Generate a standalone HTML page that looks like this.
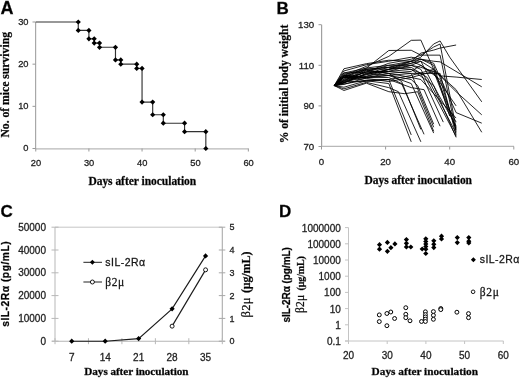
<!DOCTYPE html>
<html><head><meta charset="utf-8"><style>
html,body{margin:0;padding:0;background:#fff;}
body{width:520px;height:379px;overflow:hidden;}
svg{display:block;}
text{stroke:#222;stroke-width:0.28px;}
</style></head><body>
<svg width="520" height="379" viewBox="0 0 520 379" shape-rendering="geometricPrecision">
<defs><filter id="bl" x="0" y="0" width="100%" height="100%" filterUnits="userSpaceOnUse"><feGaussianBlur stdDeviation="0.35"/></filter></defs>
<rect width="520" height="379" fill="#fff"/>
<g filter="url(#bl)">
<rect width="520" height="379" fill="#fff"/>
<text x="0.40" y="13.50" style="font-family:'Liberation Sans',sans-serif;font-size:18px;font-weight:bold" text-anchor="start" fill="#000" >A</text>
<line x1="35.60" y1="21.99" x2="35.60" y2="149.00" stroke="#a8a8a8" stroke-width="1.2"/>
<line x1="35.50" y1="148.80" x2="248.50" y2="148.80" stroke="#b8b8b8" stroke-width="1.3"/>
<line x1="32.50" y1="148.50" x2="35.50" y2="148.50" stroke="#999" stroke-width="1"/>
<text x="28.50" y="151.40" style="font-family:'Liberation Sans',sans-serif;font-size:9.3px;font-weight:normal" text-anchor="end" fill="#222" >0</text>
<line x1="32.50" y1="106.33" x2="35.50" y2="106.33" stroke="#999" stroke-width="1"/>
<text x="28.50" y="109.23" style="font-family:'Liberation Sans',sans-serif;font-size:9.3px;font-weight:normal" text-anchor="end" fill="#222" >10</text>
<line x1="32.50" y1="64.16" x2="35.50" y2="64.16" stroke="#999" stroke-width="1"/>
<text x="28.50" y="67.06" style="font-family:'Liberation Sans',sans-serif;font-size:9.3px;font-weight:normal" text-anchor="end" fill="#222" >20</text>
<line x1="32.50" y1="21.99" x2="35.50" y2="21.99" stroke="#999" stroke-width="1"/>
<text x="28.50" y="24.89" style="font-family:'Liberation Sans',sans-serif;font-size:9.3px;font-weight:normal" text-anchor="end" fill="#222" >30</text>
<line x1="35.75" y1="148.50" x2="35.75" y2="151.50" stroke="#999" stroke-width="1"/>
<text x="35.95" y="165.70" style="font-family:'Liberation Sans',sans-serif;font-size:9.3px;font-weight:normal" text-anchor="middle" fill="#222" >20</text>
<line x1="88.90" y1="148.50" x2="88.90" y2="151.50" stroke="#999" stroke-width="1"/>
<text x="89.10" y="165.70" style="font-family:'Liberation Sans',sans-serif;font-size:9.3px;font-weight:normal" text-anchor="middle" fill="#222" >30</text>
<line x1="142.05" y1="148.50" x2="142.05" y2="151.50" stroke="#999" stroke-width="1"/>
<text x="142.25" y="165.70" style="font-family:'Liberation Sans',sans-serif;font-size:9.3px;font-weight:normal" text-anchor="middle" fill="#222" >40</text>
<line x1="195.20" y1="148.50" x2="195.20" y2="151.50" stroke="#999" stroke-width="1"/>
<text x="195.40" y="165.70" style="font-family:'Liberation Sans',sans-serif;font-size:9.3px;font-weight:normal" text-anchor="middle" fill="#222" >50</text>
<line x1="248.35" y1="148.50" x2="248.35" y2="151.50" stroke="#999" stroke-width="1"/>
<text x="248.55" y="165.70" style="font-family:'Liberation Sans',sans-serif;font-size:9.3px;font-weight:normal" text-anchor="middle" fill="#222" >60</text>
<polyline points="35.75,21.99 78.27,21.99 78.27,30.42 88.90,30.42 88.90,38.86 94.22,38.86 94.22,43.08 99.53,43.08 99.53,47.29 115.48,47.29 115.48,59.94 120.79,59.94 120.79,64.16 136.74,64.16 136.74,68.38 142.05,68.38 142.05,102.11 152.68,102.11 152.68,114.76 163.31,114.76 163.31,123.20 184.57,123.20 184.57,131.63 205.83,131.63 205.83,148.50" fill="none" stroke="#333" stroke-width="1.15" stroke-linejoin="miter"/>
<path d="M78.27 19.39L80.87 21.99L78.27 24.59L75.67 21.99Z" fill="#000"/>
<path d="M78.27 27.82L80.87 30.42L78.27 33.02L75.67 30.42Z" fill="#000"/>
<path d="M88.90 27.82L91.50 30.42L88.90 33.02L86.30 30.42Z" fill="#000"/>
<path d="M88.90 36.26L91.50 38.86L88.90 41.46L86.30 38.86Z" fill="#000"/>
<path d="M94.22 36.26L96.81 38.86L94.22 41.46L91.62 38.86Z" fill="#000"/>
<path d="M94.22 40.48L96.81 43.08L94.22 45.68L91.62 43.08Z" fill="#000"/>
<path d="M99.53 40.48L102.13 43.08L99.53 45.68L96.93 43.08Z" fill="#000"/>
<path d="M99.53 44.69L102.13 47.29L99.53 49.89L96.93 47.29Z" fill="#000"/>
<path d="M115.48 44.69L118.08 47.29L115.48 49.89L112.88 47.29Z" fill="#000"/>
<path d="M115.48 57.34L118.08 59.94L115.48 62.54L112.88 59.94Z" fill="#000"/>
<path d="M120.79 57.34L123.39 59.94L120.79 62.54L118.19 59.94Z" fill="#000"/>
<path d="M120.79 61.56L123.39 64.16L120.79 66.76L118.19 64.16Z" fill="#000"/>
<path d="M136.74 61.56L139.34 64.16L136.74 66.76L134.14 64.16Z" fill="#000"/>
<path d="M136.74 65.78L139.34 68.38L136.74 70.98L134.14 68.38Z" fill="#000"/>
<path d="M142.05 65.78L144.65 68.38L142.05 70.98L139.45 68.38Z" fill="#000"/>
<path d="M142.05 99.51L144.65 102.11L142.05 104.71L139.45 102.11Z" fill="#000"/>
<path d="M152.68 99.51L155.28 102.11L152.68 104.71L150.08 102.11Z" fill="#000"/>
<path d="M152.68 112.16L155.28 114.76L152.68 117.36L150.08 114.76Z" fill="#000"/>
<path d="M163.31 112.16L165.91 114.76L163.31 117.36L160.71 114.76Z" fill="#000"/>
<path d="M163.31 120.60L165.91 123.20L163.31 125.80L160.71 123.20Z" fill="#000"/>
<path d="M184.57 120.60L187.17 123.20L184.57 125.80L181.97 123.20Z" fill="#000"/>
<path d="M184.57 129.03L187.17 131.63L184.57 134.23L181.97 131.63Z" fill="#000"/>
<path d="M205.83 129.03L208.43 131.63L205.83 134.23L203.23 131.63Z" fill="#000"/>
<path d="M205.83 145.90L208.43 148.50L205.83 151.10L203.23 148.50Z" fill="#000"/>
<text x="88.4" y="184.6" textLength="107.8" lengthAdjust="spacing" style="font-family:'Liberation Serif',serif;font-size:11.5px;font-weight:bold" fill="#000">Days after inoculation</text>
<text transform="translate(9.2,137.6) rotate(-90)" textLength="105.6" lengthAdjust="spacing" style="font-family:'Liberation Serif',serif;font-size:11.7px;font-weight:bold" fill="#000">No. of mice surviving</text>
<text x="276.50" y="13.80" style="font-family:'Liberation Sans',sans-serif;font-size:17px;font-weight:bold" text-anchor="start" fill="#000" >B</text>
<line x1="321.60" y1="24.70" x2="321.60" y2="147.00" stroke="#a0a0a0" stroke-width="1.2"/>
<line x1="321.50" y1="146.40" x2="514.00" y2="146.40" stroke="#b8b8b8" stroke-width="1.3"/>
<line x1="318.50" y1="146.50" x2="321.50" y2="146.50" stroke="#999" stroke-width="1"/>
<text x="314.20" y="149.70" style="font-family:'Liberation Sans',sans-serif;font-size:9.7px;font-weight:normal" text-anchor="end" fill="#222" >70</text>
<line x1="318.50" y1="105.90" x2="321.50" y2="105.90" stroke="#999" stroke-width="1"/>
<text x="314.20" y="109.10" style="font-family:'Liberation Sans',sans-serif;font-size:9.7px;font-weight:normal" text-anchor="end" fill="#222" >90</text>
<line x1="318.50" y1="65.30" x2="321.50" y2="65.30" stroke="#999" stroke-width="1"/>
<text x="314.20" y="68.50" style="font-family:'Liberation Sans',sans-serif;font-size:9.7px;font-weight:normal" text-anchor="end" fill="#222" >110</text>
<line x1="318.50" y1="24.70" x2="321.50" y2="24.70" stroke="#999" stroke-width="1"/>
<text x="314.20" y="27.90" style="font-family:'Liberation Sans',sans-serif;font-size:9.7px;font-weight:normal" text-anchor="end" fill="#222" >130</text>
<line x1="321.50" y1="146.50" x2="321.50" y2="149.50" stroke="#999" stroke-width="1"/>
<text x="321.50" y="164.60" style="font-family:'Liberation Sans',sans-serif;font-size:9.7px;font-weight:normal" text-anchor="middle" fill="#222" >0</text>
<line x1="385.60" y1="146.50" x2="385.60" y2="149.50" stroke="#999" stroke-width="1"/>
<text x="385.60" y="164.60" style="font-family:'Liberation Sans',sans-serif;font-size:9.7px;font-weight:normal" text-anchor="middle" fill="#222" >20</text>
<line x1="449.70" y1="146.50" x2="449.70" y2="149.50" stroke="#999" stroke-width="1"/>
<text x="449.70" y="164.60" style="font-family:'Liberation Sans',sans-serif;font-size:9.7px;font-weight:normal" text-anchor="middle" fill="#222" >40</text>
<line x1="513.80" y1="146.50" x2="513.80" y2="149.50" stroke="#999" stroke-width="1"/>
<text x="513.80" y="164.60" style="font-family:'Liberation Sans',sans-serif;font-size:9.7px;font-weight:normal" text-anchor="middle" fill="#222" >60</text>
<text x="364.6" y="183.9" textLength="107.4" lengthAdjust="spacing" style="font-family:'Liberation Serif',serif;font-size:11.5px;font-weight:bold" fill="#000">Days after inoculation</text>
<text transform="translate(288.0,143.2) rotate(-90)" textLength="118.6" lengthAdjust="spacing" style="font-family:'Liberation Serif',serif;font-size:11.7px;font-weight:bold" fill="#000">% of initial body weight</text>
<polyline points="334.32,85.60 343.94,75.65 366.37,66.32 388.81,56.37 411.24,40.33 420.86,40.13 433.68,69.36 456.11,91.69 481.75,114.83" fill="none" stroke="#000" stroke-width="0.85" stroke-linejoin="miter"/>
<polyline points="334.32,85.60 343.94,77.28 366.37,67.94 388.81,65.30 411.24,61.24 420.86,57.18 433.68,43.99 440.09,40.94 449.70,57.18 481.75,101.84" fill="none" stroke="#000" stroke-width="0.85" stroke-linejoin="miter"/>
<polyline points="334.32,85.60 343.94,80.32 366.37,71.80 388.81,63.27 411.24,59.21 420.86,55.15 433.68,47.03 440.09,43.99 456.11,128.23" fill="none" stroke="#000" stroke-width="0.85" stroke-linejoin="miter"/>
<polyline points="334.32,85.60 343.94,82.56 366.37,73.62 388.81,67.33 411.24,61.24 420.86,53.12 433.68,50.08 440.09,48.05 456.11,45.00" fill="none" stroke="#000" stroke-width="0.85" stroke-linejoin="miter"/>
<polyline points="334.32,85.60 343.94,73.01 366.37,68.14 388.81,50.48 411.24,50.28 420.86,55.15 440.09,55.15 456.11,132.29" fill="none" stroke="#000" stroke-width="0.85" stroke-linejoin="miter"/>
<polyline points="334.32,85.60 343.94,81.13 366.37,76.26 388.81,69.36 411.24,65.30 420.86,67.33 433.68,71.39 440.09,75.86 456.11,77.07 481.75,79.51" fill="none" stroke="#000" stroke-width="0.85" stroke-linejoin="miter"/>
<polyline points="334.32,85.60 343.94,76.06 366.37,69.36 388.81,67.33 411.24,63.27 420.86,59.21 433.68,61.24 440.09,61.85 481.75,86.82" fill="none" stroke="#000" stroke-width="0.85" stroke-linejoin="miter"/>
<polyline points="334.32,85.60 343.94,79.31 366.37,74.64 388.81,69.36 411.24,61.24 420.86,59.21 433.68,63.27 456.11,112.60 481.75,123.16" fill="none" stroke="#000" stroke-width="0.85" stroke-linejoin="miter"/>
<polyline points="334.32,85.60 343.94,77.68 366.37,72.81 388.81,71.39 411.24,65.30 420.86,61.24 433.68,69.36 456.11,89.66 481.75,132.29" fill="none" stroke="#000" stroke-width="0.85" stroke-linejoin="miter"/>
<polyline points="334.32,85.60 343.94,77.07 366.37,80.73 388.81,83.57 411.24,141.83" fill="none" stroke="#000" stroke-width="0.85" stroke-linejoin="miter"/>
<polyline points="334.32,85.60 343.94,81.74 366.37,81.34 388.81,79.51 411.24,134.93" fill="none" stroke="#000" stroke-width="0.85" stroke-linejoin="miter"/>
<polyline points="334.32,85.60 343.94,88.85 366.37,82.35 388.81,87.63 398.42,91.69 420.86,141.83" fill="none" stroke="#000" stroke-width="0.85" stroke-linejoin="miter"/>
<polyline points="334.32,85.60 343.94,75.25 366.37,77.48 388.81,73.42 401.62,81.54 420.86,129.45" fill="none" stroke="#000" stroke-width="0.85" stroke-linejoin="miter"/>
<polyline points="334.32,85.60 343.94,83.16 366.37,73.42 388.81,75.45 411.24,83.57 433.68,133.10" fill="none" stroke="#000" stroke-width="0.85" stroke-linejoin="miter"/>
<polyline points="334.32,85.60 343.94,82.35 366.37,76.47 388.81,71.39 411.24,73.42 433.68,127.22" fill="none" stroke="#000" stroke-width="0.85" stroke-linejoin="miter"/>
<polyline points="334.32,85.60 343.94,90.47 366.37,83.16 388.81,91.69 404.83,93.72 417.65,91.69 433.68,131.28" fill="none" stroke="#000" stroke-width="0.85" stroke-linejoin="miter"/>
<polyline points="334.32,85.60 343.94,73.01 366.37,72.20 388.81,65.30 411.24,65.30 420.86,69.36 456.11,136.35" fill="none" stroke="#000" stroke-width="0.85" stroke-linejoin="miter"/>
<polyline points="334.32,85.60 343.94,80.53 366.37,74.64 388.81,69.36 411.24,67.33 427.26,77.48 456.11,133.31" fill="none" stroke="#000" stroke-width="0.85" stroke-linejoin="miter"/>
<polyline points="334.32,85.60 343.94,82.76 366.37,70.38 388.81,73.42 411.24,77.48 433.68,71.39 456.11,129.25" fill="none" stroke="#000" stroke-width="0.85" stroke-linejoin="miter"/>
<polyline points="334.32,85.60 343.94,74.23 366.37,69.36 388.81,67.33 411.24,69.36 433.68,85.60 456.11,137.37" fill="none" stroke="#000" stroke-width="0.85" stroke-linejoin="miter"/>
<polyline points="334.32,85.60 343.94,75.04 366.37,77.07 388.81,75.45 411.24,73.42 440.09,73.42 456.11,135.34" fill="none" stroke="#000" stroke-width="0.85" stroke-linejoin="miter"/>
<polyline points="334.32,85.60 343.94,81.13 366.37,68.95 388.81,69.36 411.24,63.27 420.86,61.24 436.88,91.69 456.11,126.20" fill="none" stroke="#000" stroke-width="0.85" stroke-linejoin="miter"/>
<polyline points="334.32,85.60 343.94,87.22 366.37,80.73 388.81,79.51 411.24,75.45 433.68,69.36 449.70,109.96 456.11,122.14" fill="none" stroke="#000" stroke-width="0.85" stroke-linejoin="miter"/>
<polyline points="334.32,85.60 343.94,77.28 366.37,78.50 388.81,81.54 411.24,77.48 420.86,79.51 456.11,118.08" fill="none" stroke="#000" stroke-width="0.85" stroke-linejoin="miter"/>
<polyline points="334.32,85.60 343.94,70.98 366.37,64.69 388.81,61.24 411.24,57.18 420.86,59.21 433.68,65.30 440.09,85.60 449.70,116.05" fill="none" stroke="#000" stroke-width="0.85" stroke-linejoin="miter"/>
<polyline points="334.32,85.60 343.94,78.90 366.37,71.80 388.81,71.39 411.24,69.36 420.86,73.42 443.29,122.14" fill="none" stroke="#000" stroke-width="0.85" stroke-linejoin="miter"/>
<polyline points="334.32,85.60 343.94,84.38 366.37,77.89 388.81,75.45 411.24,79.51 417.65,85.60 433.68,124.17" fill="none" stroke="#000" stroke-width="0.85" stroke-linejoin="miter"/>
<polyline points="334.32,85.60 343.94,68.75 366.37,63.68 388.81,60.23 411.24,61.24 420.86,65.30 433.68,73.42 456.11,105.90" fill="none" stroke="#000" stroke-width="0.85" stroke-linejoin="miter"/>
<polyline points="334.32,85.60 343.94,76.26 366.37,77.68 388.81,77.48 401.62,83.57 424.06,134.32" fill="none" stroke="#000" stroke-width="0.85" stroke-linejoin="miter"/>
<polyline points="334.32,85.60 343.94,83.98 366.37,80.12 388.81,79.51 411.24,87.63 424.06,89.66 440.09,126.20" fill="none" stroke="#000" stroke-width="0.85" stroke-linejoin="miter"/>
<polyline points="334.32,85.60 343.94,77.28 366.37,70.17 388.81,73.42 411.24,71.39 420.86,65.30 440.09,79.51 456.11,130.26" fill="none" stroke="#000" stroke-width="0.85" stroke-linejoin="miter"/>
<text x="0.50" y="216.60" style="font-family:'Liberation Sans',sans-serif;font-size:17px;font-weight:bold" text-anchor="start" fill="#000" >C</text>
<line x1="55.00" y1="227.20" x2="222.30" y2="227.20" stroke="#c6c6c6" stroke-width="1"/>
<line x1="55.00" y1="227.20" x2="55.00" y2="341.20" stroke="#bdbdbd" stroke-width="1.1"/>
<line x1="222.30" y1="227.20" x2="222.30" y2="341.20" stroke="#ababab" stroke-width="1.1"/>
<line x1="52.00" y1="341.20" x2="224.80" y2="341.20" stroke="#b4b4b4" stroke-width="1.1"/>
<line x1="51.50" y1="341.20" x2="58.50" y2="341.20" stroke="#b8b8b8" stroke-width="1"/>
<text x="46.00" y="344.80" style="font-family:'Liberation Sans',sans-serif;font-size:10px;font-weight:normal" text-anchor="end" fill="#222" >0</text>
<line x1="218.80" y1="341.20" x2="225.30" y2="341.20" stroke="#a8a8a8" stroke-width="1"/>
<text x="229.60" y="344.40" style="font-family:'Liberation Sans',sans-serif;font-size:9px;font-weight:normal" text-anchor="start" fill="#222" >0</text>
<line x1="51.50" y1="318.40" x2="58.50" y2="318.40" stroke="#b8b8b8" stroke-width="1"/>
<text x="46.00" y="322.00" style="font-family:'Liberation Sans',sans-serif;font-size:10px;font-weight:normal" text-anchor="end" fill="#222" >10000</text>
<line x1="218.80" y1="318.40" x2="225.30" y2="318.40" stroke="#a8a8a8" stroke-width="1"/>
<text x="229.60" y="321.60" style="font-family:'Liberation Sans',sans-serif;font-size:9px;font-weight:normal" text-anchor="start" fill="#222" >1</text>
<line x1="51.50" y1="295.60" x2="58.50" y2="295.60" stroke="#b8b8b8" stroke-width="1"/>
<text x="46.00" y="299.20" style="font-family:'Liberation Sans',sans-serif;font-size:10px;font-weight:normal" text-anchor="end" fill="#222" >20000</text>
<line x1="218.80" y1="295.60" x2="225.30" y2="295.60" stroke="#a8a8a8" stroke-width="1"/>
<text x="229.60" y="298.80" style="font-family:'Liberation Sans',sans-serif;font-size:9px;font-weight:normal" text-anchor="start" fill="#222" >2</text>
<line x1="51.50" y1="272.80" x2="58.50" y2="272.80" stroke="#b8b8b8" stroke-width="1"/>
<text x="46.00" y="276.40" style="font-family:'Liberation Sans',sans-serif;font-size:10px;font-weight:normal" text-anchor="end" fill="#222" >30000</text>
<line x1="218.80" y1="272.80" x2="225.30" y2="272.80" stroke="#a8a8a8" stroke-width="1"/>
<text x="229.60" y="276.00" style="font-family:'Liberation Sans',sans-serif;font-size:9px;font-weight:normal" text-anchor="start" fill="#222" >3</text>
<line x1="51.50" y1="250.00" x2="58.50" y2="250.00" stroke="#b8b8b8" stroke-width="1"/>
<text x="46.00" y="253.60" style="font-family:'Liberation Sans',sans-serif;font-size:10px;font-weight:normal" text-anchor="end" fill="#222" >40000</text>
<line x1="218.80" y1="250.00" x2="225.30" y2="250.00" stroke="#a8a8a8" stroke-width="1"/>
<text x="229.60" y="253.20" style="font-family:'Liberation Sans',sans-serif;font-size:9px;font-weight:normal" text-anchor="start" fill="#222" >4</text>
<line x1="51.50" y1="227.20" x2="58.50" y2="227.20" stroke="#b8b8b8" stroke-width="1"/>
<text x="46.00" y="230.80" style="font-family:'Liberation Sans',sans-serif;font-size:10px;font-weight:normal" text-anchor="end" fill="#222" >50000</text>
<line x1="218.80" y1="227.20" x2="225.30" y2="227.20" stroke="#a8a8a8" stroke-width="1"/>
<text x="229.60" y="230.40" style="font-family:'Liberation Sans',sans-serif;font-size:9px;font-weight:normal" text-anchor="start" fill="#222" >5</text>
<line x1="55.00" y1="338.20" x2="55.00" y2="344.20" stroke="#b8b8b8" stroke-width="1"/>
<line x1="88.46" y1="338.20" x2="88.46" y2="344.20" stroke="#b8b8b8" stroke-width="1"/>
<line x1="121.92" y1="338.20" x2="121.92" y2="344.20" stroke="#b8b8b8" stroke-width="1"/>
<line x1="155.38" y1="338.20" x2="155.38" y2="344.20" stroke="#b8b8b8" stroke-width="1"/>
<line x1="188.84" y1="338.20" x2="188.84" y2="344.20" stroke="#b8b8b8" stroke-width="1"/>
<line x1="222.30" y1="338.20" x2="222.30" y2="344.20" stroke="#b8b8b8" stroke-width="1"/>
<text x="71.73" y="360.80" style="font-family:'Liberation Sans',sans-serif;font-size:10px;font-weight:normal" text-anchor="middle" fill="#222" >7</text>
<text x="105.19" y="360.80" style="font-family:'Liberation Sans',sans-serif;font-size:10px;font-weight:normal" text-anchor="middle" fill="#222" >14</text>
<text x="138.65" y="360.80" style="font-family:'Liberation Sans',sans-serif;font-size:10px;font-weight:normal" text-anchor="middle" fill="#222" >21</text>
<text x="172.11" y="360.80" style="font-family:'Liberation Sans',sans-serif;font-size:10px;font-weight:normal" text-anchor="middle" fill="#222" >28</text>
<text x="205.57" y="360.80" style="font-family:'Liberation Sans',sans-serif;font-size:10px;font-weight:normal" text-anchor="middle" fill="#222" >35</text>
<polyline points="71.73,341.20 105.19,341.20 138.65,338.58 172.11,308.82 205.57,255.93" fill="none" stroke="#1a1a1a" stroke-width="1.15" stroke-linejoin="miter"/>
<path d="M71.73 338.60L74.33 341.20L71.73 343.80L69.13 341.20Z" fill="#000"/>
<path d="M105.19 338.60L107.79 341.20L105.19 343.80L102.59 341.20Z" fill="#000"/>
<path d="M138.65 335.98L141.25 338.58L138.65 341.18L136.05 338.58Z" fill="#000"/>
<path d="M172.11 306.22L174.71 308.82L172.11 311.42L169.51 308.82Z" fill="#000"/>
<path d="M205.57 253.33L208.17 255.93L205.57 258.53L202.97 255.93Z" fill="#000"/>
<polyline points="172.11,326.15 205.57,269.84" fill="none" stroke="#1a1a1a" stroke-width="1.15" stroke-linejoin="miter"/>
<circle cx="172.11" cy="326.15" r="2.0" fill="#fff" stroke="#000" stroke-width="0.9"/>
<circle cx="205.57" cy="269.84" r="2.0" fill="#fff" stroke="#000" stroke-width="0.9"/>
<line x1="83.40" y1="262.30" x2="102.00" y2="262.30" stroke="#222" stroke-width="1"/>
<path d="M92.40 259.80L94.90 262.30L92.40 264.80L89.90 262.30Z" fill="#000"/>
<text x="105.30" y="265.80" style="font-family:'Liberation Sans',sans-serif;font-size:10.5px;font-weight:normal" text-anchor="start" fill="#111" textLength="39.8" lengthAdjust="spacing">sIL-2R&#945;</text>
<line x1="83.40" y1="282.00" x2="102.00" y2="282.00" stroke="#222" stroke-width="1"/>
<circle cx="92.40" cy="282.00" r="2.0" fill="#fff" stroke="#000" stroke-width="0.9"/>
<text x="105.30" y="285.80" style="font-family:'Liberation Serif',serif;font-size:11.5px;font-weight:normal" text-anchor="start" fill="#111" textLength="18.8" lengthAdjust="spacing">&#946;2&#956;</text>
<text x="84.3" y="375.0" textLength="104.2" lengthAdjust="spacing" style="font-family:'Liberation Serif',serif;font-size:11.2px;font-weight:bold" fill="#000">Days after inoculation</text>
<text transform="translate(9.3,326.8) rotate(-90)" textLength="85.5" lengthAdjust="spacing" style="font-family:'Liberation Sans',sans-serif;font-size:10.3px;font-weight:bold" fill="#000">sIL-2R&#945; (pg/mL)</text>
<text transform="translate(249.8,317.5) rotate(-90)" textLength="19.9" lengthAdjust="spacing" style="font-family:'Liberation Serif',serif;font-size:12.5px;font-weight:normal" fill="#000">&#946;2&#956;</text>
<text transform="translate(249.8,293.1) rotate(-90)" textLength="41.5" lengthAdjust="spacing" style="font-family:'Liberation Serif',serif;font-size:12px;font-weight:bold" fill="#000">(&#956;g/mL)</text>
<text x="279.00" y="216.60" style="font-family:'Liberation Sans',sans-serif;font-size:17px;font-weight:bold" text-anchor="start" fill="#000" >D</text>
<line x1="348.50" y1="227.60" x2="348.50" y2="341.50" stroke="#c4c4c4" stroke-width="1"/>
<line x1="345.00" y1="341.00" x2="503.50" y2="341.00" stroke="#c4c4c4" stroke-width="1"/>
<line x1="345.00" y1="341.00" x2="348.50" y2="341.00" stroke="#c4c4c4" stroke-width="1"/>
<text x="340.80" y="344.90" style="font-family:'Liberation Sans',sans-serif;font-size:10px;font-weight:normal" text-anchor="end" fill="#222" >0.1</text>
<line x1="345.00" y1="324.80" x2="348.50" y2="324.80" stroke="#c4c4c4" stroke-width="1"/>
<text x="340.80" y="328.70" style="font-family:'Liberation Sans',sans-serif;font-size:10px;font-weight:normal" text-anchor="end" fill="#222" >1</text>
<line x1="345.00" y1="308.60" x2="348.50" y2="308.60" stroke="#c4c4c4" stroke-width="1"/>
<text x="340.80" y="312.50" style="font-family:'Liberation Sans',sans-serif;font-size:10px;font-weight:normal" text-anchor="end" fill="#222" >10</text>
<line x1="345.00" y1="292.40" x2="348.50" y2="292.40" stroke="#c4c4c4" stroke-width="1"/>
<text x="340.80" y="296.30" style="font-family:'Liberation Sans',sans-serif;font-size:10px;font-weight:normal" text-anchor="end" fill="#222" >100</text>
<line x1="345.00" y1="276.20" x2="348.50" y2="276.20" stroke="#c4c4c4" stroke-width="1"/>
<text x="340.80" y="280.10" style="font-family:'Liberation Sans',sans-serif;font-size:10px;font-weight:normal" text-anchor="end" fill="#222" >1000</text>
<line x1="345.00" y1="260.00" x2="348.50" y2="260.00" stroke="#c4c4c4" stroke-width="1"/>
<text x="340.80" y="263.90" style="font-family:'Liberation Sans',sans-serif;font-size:10px;font-weight:normal" text-anchor="end" fill="#222" >10000</text>
<line x1="345.00" y1="243.80" x2="348.50" y2="243.80" stroke="#c4c4c4" stroke-width="1"/>
<text x="340.80" y="247.70" style="font-family:'Liberation Sans',sans-serif;font-size:10px;font-weight:normal" text-anchor="end" fill="#222" >100000</text>
<line x1="345.00" y1="227.60" x2="348.50" y2="227.60" stroke="#c4c4c4" stroke-width="1"/>
<text x="340.80" y="231.50" style="font-family:'Liberation Sans',sans-serif;font-size:10px;font-weight:normal" text-anchor="end" fill="#222" >1000000</text>
<line x1="348.50" y1="341.00" x2="348.50" y2="344.00" stroke="#c4c4c4" stroke-width="1"/>
<text x="348.50" y="358.60" style="font-family:'Liberation Sans',sans-serif;font-size:10px;font-weight:normal" text-anchor="middle" fill="#222" >20</text>
<line x1="387.20" y1="341.00" x2="387.20" y2="344.00" stroke="#c4c4c4" stroke-width="1"/>
<text x="387.20" y="358.60" style="font-family:'Liberation Sans',sans-serif;font-size:10px;font-weight:normal" text-anchor="middle" fill="#222" >30</text>
<line x1="425.90" y1="341.00" x2="425.90" y2="344.00" stroke="#c4c4c4" stroke-width="1"/>
<text x="425.90" y="358.60" style="font-family:'Liberation Sans',sans-serif;font-size:10px;font-weight:normal" text-anchor="middle" fill="#222" >40</text>
<line x1="464.60" y1="341.00" x2="464.60" y2="344.00" stroke="#c4c4c4" stroke-width="1"/>
<text x="464.60" y="358.60" style="font-family:'Liberation Sans',sans-serif;font-size:10px;font-weight:normal" text-anchor="middle" fill="#222" >50</text>
<line x1="503.30" y1="341.00" x2="503.30" y2="344.00" stroke="#c4c4c4" stroke-width="1"/>
<text x="503.30" y="358.60" style="font-family:'Liberation Sans',sans-serif;font-size:10px;font-weight:normal" text-anchor="middle" fill="#222" >60</text>
<text x="371.6" y="375.4" textLength="106.4" lengthAdjust="spacing" style="font-family:'Liberation Serif',serif;font-size:11.3px;font-weight:bold" fill="#000">Days after inoculation</text>
<text transform="translate(289.9,322.6) rotate(-90)" textLength="75.5" lengthAdjust="spacing" style="font-family:'Liberation Sans',sans-serif;font-size:10px;font-weight:bold" fill="#000">sIL-2R&#945; (pg/mL)</text>
<text transform="translate(304.3,313.0) rotate(-90)" textLength="18.3" lengthAdjust="spacing" style="font-family:'Liberation Serif',serif;font-size:11.5px;font-weight:normal" fill="#000">&#946;2&#956;</text>
<text transform="translate(304.3,290.4) rotate(-90)" textLength="34.2" lengthAdjust="spacing" style="font-family:'Liberation Serif',serif;font-size:10px;font-weight:bold" fill="#000">(&#956;g/mL)</text>
<path d="M379.50 242.10L382.10 244.70L379.50 247.30L376.90 244.70Z" fill="#000"/>
<path d="M379.50 246.60L382.10 249.20L379.50 251.80L376.90 249.20Z" fill="#000"/>
<path d="M387.40 239.80L390.00 242.40L387.40 245.00L384.80 242.40Z" fill="#000"/>
<path d="M387.40 248.70L390.00 251.30L387.40 253.90L384.80 251.30Z" fill="#000"/>
<path d="M390.90 245.10L393.50 247.70L390.90 250.30L388.30 247.70Z" fill="#000"/>
<path d="M394.90 241.30L397.50 243.90L394.90 246.50L392.30 243.90Z" fill="#000"/>
<path d="M406.40 237.00L409.00 239.60L406.40 242.20L403.80 239.60Z" fill="#000"/>
<path d="M406.40 240.70L409.00 243.30L406.40 245.90L403.80 243.30Z" fill="#000"/>
<path d="M406.40 244.30L409.00 246.90L406.40 249.50L403.80 246.90Z" fill="#000"/>
<path d="M410.80 244.40L413.40 247.00L410.80 249.60L408.20 247.00Z" fill="#000"/>
<path d="M422.20 246.40L424.80 249.00L422.20 251.60L419.60 249.00Z" fill="#000"/>
<path d="M425.80 236.20L428.40 238.80L425.80 241.40L423.20 238.80Z" fill="#000"/>
<path d="M425.80 238.90L428.40 241.50L425.80 244.10L423.20 241.50Z" fill="#000"/>
<path d="M425.80 241.40L428.40 244.00L425.80 246.60L423.20 244.00Z" fill="#000"/>
<path d="M425.80 243.90L428.40 246.50L425.80 249.10L423.20 246.50Z" fill="#000"/>
<path d="M425.80 246.60L428.40 249.20L425.80 251.80L423.20 249.20Z" fill="#000"/>
<path d="M425.80 250.90L428.40 253.50L425.80 256.10L423.20 253.50Z" fill="#000"/>
<path d="M433.80 238.20L436.40 240.80L433.80 243.40L431.20 240.80Z" fill="#000"/>
<path d="M433.80 241.70L436.40 244.30L433.80 246.90L431.20 244.30Z" fill="#000"/>
<path d="M433.80 245.00L436.40 247.60L433.80 250.20L431.20 247.60Z" fill="#000"/>
<path d="M441.50 233.60L444.10 236.20L441.50 238.80L438.90 236.20Z" fill="#000"/>
<path d="M441.50 236.40L444.10 239.00L441.50 241.60L438.90 239.00Z" fill="#000"/>
<path d="M457.30 235.00L459.90 237.60L457.30 240.20L454.70 237.60Z" fill="#000"/>
<path d="M457.30 240.00L459.90 242.60L457.30 245.20L454.70 242.60Z" fill="#000"/>
<path d="M468.80 235.00L471.40 237.60L468.80 240.20L466.20 237.60Z" fill="#000"/>
<path d="M468.80 238.60L471.40 241.20L468.80 243.80L466.20 241.20Z" fill="#000"/>
<path d="M468.80 240.40L471.40 243.00L468.80 245.60L466.20 243.00Z" fill="#000"/>
<circle cx="379.30" cy="314.90" r="1.95" fill="#fff" stroke="#000" stroke-width="1.0"/>
<circle cx="379.30" cy="321.60" r="1.95" fill="#fff" stroke="#000" stroke-width="1.0"/>
<circle cx="386.90" cy="313.50" r="1.95" fill="#fff" stroke="#000" stroke-width="1.0"/>
<circle cx="390.80" cy="312.00" r="1.95" fill="#fff" stroke="#000" stroke-width="1.0"/>
<circle cx="386.90" cy="325.70" r="1.95" fill="#fff" stroke="#000" stroke-width="1.0"/>
<circle cx="394.60" cy="318.50" r="1.95" fill="#fff" stroke="#000" stroke-width="1.0"/>
<circle cx="405.80" cy="307.70" r="1.95" fill="#fff" stroke="#000" stroke-width="1.0"/>
<circle cx="405.80" cy="314.30" r="1.95" fill="#fff" stroke="#000" stroke-width="1.0"/>
<circle cx="405.80" cy="317.70" r="1.95" fill="#fff" stroke="#000" stroke-width="1.0"/>
<circle cx="410.00" cy="320.80" r="1.95" fill="#fff" stroke="#000" stroke-width="1.0"/>
<circle cx="421.50" cy="321.50" r="1.95" fill="#fff" stroke="#000" stroke-width="1.0"/>
<circle cx="425.40" cy="311.80" r="1.95" fill="#fff" stroke="#000" stroke-width="1.0"/>
<circle cx="425.40" cy="314.60" r="1.95" fill="#fff" stroke="#000" stroke-width="1.0"/>
<circle cx="425.40" cy="316.90" r="1.95" fill="#fff" stroke="#000" stroke-width="1.0"/>
<circle cx="425.40" cy="319.20" r="1.95" fill="#fff" stroke="#000" stroke-width="1.0"/>
<circle cx="425.40" cy="321.50" r="1.95" fill="#fff" stroke="#000" stroke-width="1.0"/>
<circle cx="433.40" cy="311.60" r="1.95" fill="#fff" stroke="#000" stroke-width="1.0"/>
<circle cx="433.40" cy="315.30" r="1.95" fill="#fff" stroke="#000" stroke-width="1.0"/>
<circle cx="433.40" cy="319.30" r="1.95" fill="#fff" stroke="#000" stroke-width="1.0"/>
<circle cx="440.80" cy="308.50" r="1.95" fill="#fff" stroke="#000" stroke-width="1.0"/>
<circle cx="440.80" cy="309.60" r="1.95" fill="#fff" stroke="#000" stroke-width="1.0"/>
<circle cx="456.90" cy="312.20" r="1.95" fill="#fff" stroke="#000" stroke-width="1.0"/>
<circle cx="468.50" cy="313.60" r="1.95" fill="#fff" stroke="#000" stroke-width="1.0"/>
<circle cx="468.50" cy="317.70" r="1.95" fill="#fff" stroke="#000" stroke-width="1.0"/>
<path d="M473.40 257.30L475.90 259.80L473.40 262.30L470.90 259.80Z" fill="#000"/>
<text x="479.80" y="263.40" style="font-family:'Liberation Sans',sans-serif;font-size:10.5px;font-weight:normal" text-anchor="start" fill="#111" textLength="39.6" lengthAdjust="spacing">sIL-2R&#945;</text>
<circle cx="473.10" cy="291.80" r="1.8" fill="#fff" stroke="#000" stroke-width="0.9"/>
<text x="479.80" y="295.60" style="font-family:'Liberation Serif',serif;font-size:11.5px;font-weight:normal" text-anchor="start" fill="#111" textLength="19.2" lengthAdjust="spacing">&#946;2&#956;</text>
</g>
</svg>
</body></html>
